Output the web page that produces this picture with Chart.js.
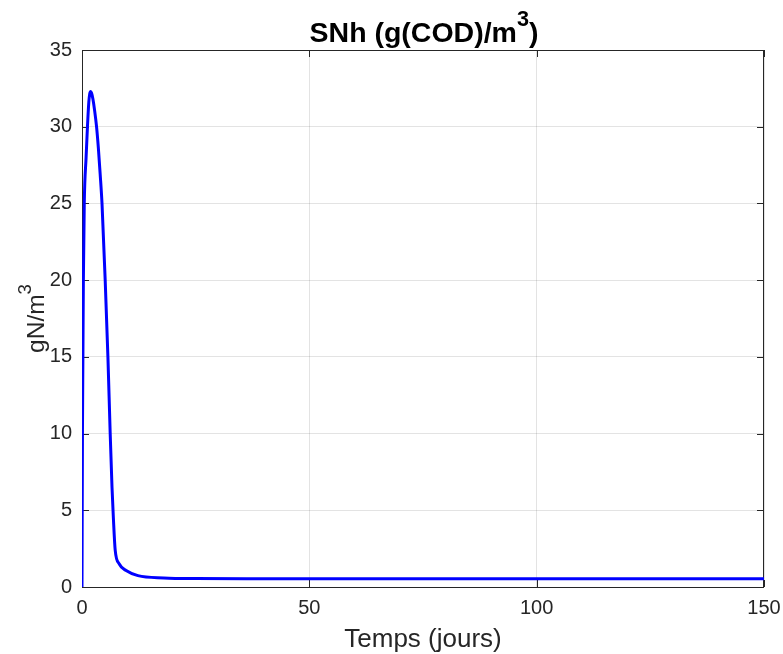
<!DOCTYPE html>
<html>
<head>
<meta charset="utf-8">
<script src="https://cdn.jsdelivr.net/npm/chart.js@4.4.1/dist/chart.umd.min.js"></script>
<style>
  html, body { margin: 0; padding: 0; background: #fff; }
  #wrap { width: 783px; height: 654px; }
</style>
</head>
<body>
<div id="wrap"><canvas id="myChart" width="783" height="654"></canvas></div>
<script>
// values
var days = [0, 0.1, 0.2, 0.3, 0.5, 0.9, 1.2, 1.5, 1.7, 1.9, 2.1, 2.4, 2.8, 3.2, 3.6, 4.0, 4.4, 5.1, 5.7, 6.2, 6.6, 6.9, 7.3, 8.2, 9.7, 12.3, 18, 25, 40, 60, 80, 100, 120, 150];
var snh = [0, 10, 15, 20, 25, 28, 30, 31.6, 32.15, 32.3, 32.2, 31.8, 31.0, 30.0, 28.6, 26.9, 25, 20, 15, 10, 6.5, 4.5, 2.4, 1.5, 1.07, 0.74, 0.59, 0.55, 0.54, 0.53, 0.53, 0.53, 0.53, 0.53];
var xTicks = [0, 50, 100, 150];
var yTicks = [0, 5, 10, 15, 20, 25, 30, 35];

var FONT = "'Liberation Sans', Arial, Helvetica, sans-serif";
var TXT = '#262626';

var points = [];
for (var i = 0; i < days.length; i++) {
  points.push({x: days[i], y: snh[i]});
}

// draws text with a superscript part, centered at (cx, baseline)
function drawSup(ctx, base, sup, tail, cx, by, size, bold) {
  var w = bold ? 'bold ' : '';
  var supSize = size * 0.76;
  ctx.font = w + size + 'px ' + FONT;
  var w1 = ctx.measureText(base).width;
  var w3 = ctx.measureText(tail).width;
  ctx.font = w + supSize + 'px ' + FONT;
  var w2 = ctx.measureText(sup).width;
  var x0 = cx - (w1 + w2 + w3) / 2;
  ctx.textAlign = 'left';
  ctx.textBaseline = 'alphabetic';
  ctx.font = w + size + 'px ' + FONT;
  ctx.fillText(base, x0, by);
  ctx.font = w + supSize + 'px ' + FONT;
  ctx.fillText(sup, x0 + w1, by - size * 0.55);
  ctx.font = w + size + 'px ' + FONT;
  if (tail) ctx.fillText(tail, x0 + w1 + w2, by);
}

var matlabPlugin = {
  id: 'matlab',
  beforeDatasetsDraw: function(chart) {
    var ctx = chart.ctx, a = chart.chartArea;
    var x = chart.scales.x, y = chart.scales.y;
    ctx.save();
    ctx.strokeStyle = '#262626';
    ctx.lineWidth = 1;
    ctx.strokeRect(Math.round(a.left) + 0.5, Math.round(a.top) + 0.5,
                   Math.round(a.right - a.left) - 1, Math.round(a.bottom - a.top));
    ctx.beginPath();
    xTicks.forEach(function(t) {
      var px = Math.round(x.getPixelForValue(t)) + 0.5;
      ctx.moveTo(px, a.bottom); ctx.lineTo(px, a.bottom - 7);
      ctx.moveTo(px, a.top); ctx.lineTo(px, a.top + 7);
    });
    yTicks.forEach(function(t) {
      var py = Math.round(y.getPixelForValue(t)) + 0.5;
      ctx.moveTo(a.left, py); ctx.lineTo(a.left + 7, py);
      ctx.moveTo(a.right, py); ctx.lineTo(a.right - 7, py);
    });
    ctx.stroke();
    ctx.restore();
  },
  afterDraw: function(chart) {
    var ctx = chart.ctx, a = chart.chartArea;
    var cx = (a.left + a.right) / 2;
    ctx.save();
    ctx.fillStyle = '#000';
    drawSup(ctx, 'SNh (g(COD)/m', '3', ')', cx + 1, 42, 28.5, true);
    ctx.fillStyle = TXT;
    ctx.font = '26px ' + FONT;
    ctx.textAlign = 'center';
    ctx.textBaseline = 'alphabetic';
    ctx.fillText('Temps (jours)', cx, 647);
    ctx.translate(44, (a.top + a.bottom) / 2);
    ctx.rotate(-Math.PI / 2);
    drawSup(ctx, 'gN/m', '3', '', 0, 0, 24.5, false);
    ctx.restore();
  }
};

var ctx = document.getElementById('myChart').getContext('2d');
var myChart = new Chart(ctx, {
  type: 'line',
  data: {
    datasets: [{
      label: 'SNh',
      data: points,
      borderColor: '#0000ff',
      borderWidth: 3,
      pointRadius: 0,
      fill: false,
      cubicInterpolationMode: 'monotone'
    }]
  },
  options: {
    responsive: false,
    animation: false,
    layout: { padding: { left: 0, right: 19, top: 50, bottom: 0 } },
    plugins: { legend: { display: false }, title: { display: false }, tooltip: { enabled: false } },
    scales: {
      x: {
        type: 'linear',
        min: 0, max: 150,
        afterFit: function(scale) { scale.height = 67; scale.paddingLeft = 0; scale.paddingRight = 0; },
        afterBuildTicks: function(scale) { scale.ticks = xTicks.map(function(v) { return {value: v}; }); },
        border: { display: false },
        grid: { color: 'rgba(38,38,38,0.13)', drawTicks: false },
        ticks: { padding: 9, color: TXT, font: { family: FONT, size: 20 }, maxRotation: 0 }
      },
      y: {
        min: 0, max: 35,
        afterFit: function(scale) { scale.width = 82; scale.paddingTop = 0; scale.paddingBottom = 0; },
        afterBuildTicks: function(scale) { scale.ticks = yTicks.map(function(v) { return {value: v}; }); },
        border: { display: false },
        grid: { color: 'rgba(38,38,38,0.13)', drawTicks: false },
        ticks: { padding: 10, color: TXT, font: { family: FONT, size: 20 } }
      }
    }
  },
  plugins: [matlabPlugin]
});
</script>
</body>
</html>
